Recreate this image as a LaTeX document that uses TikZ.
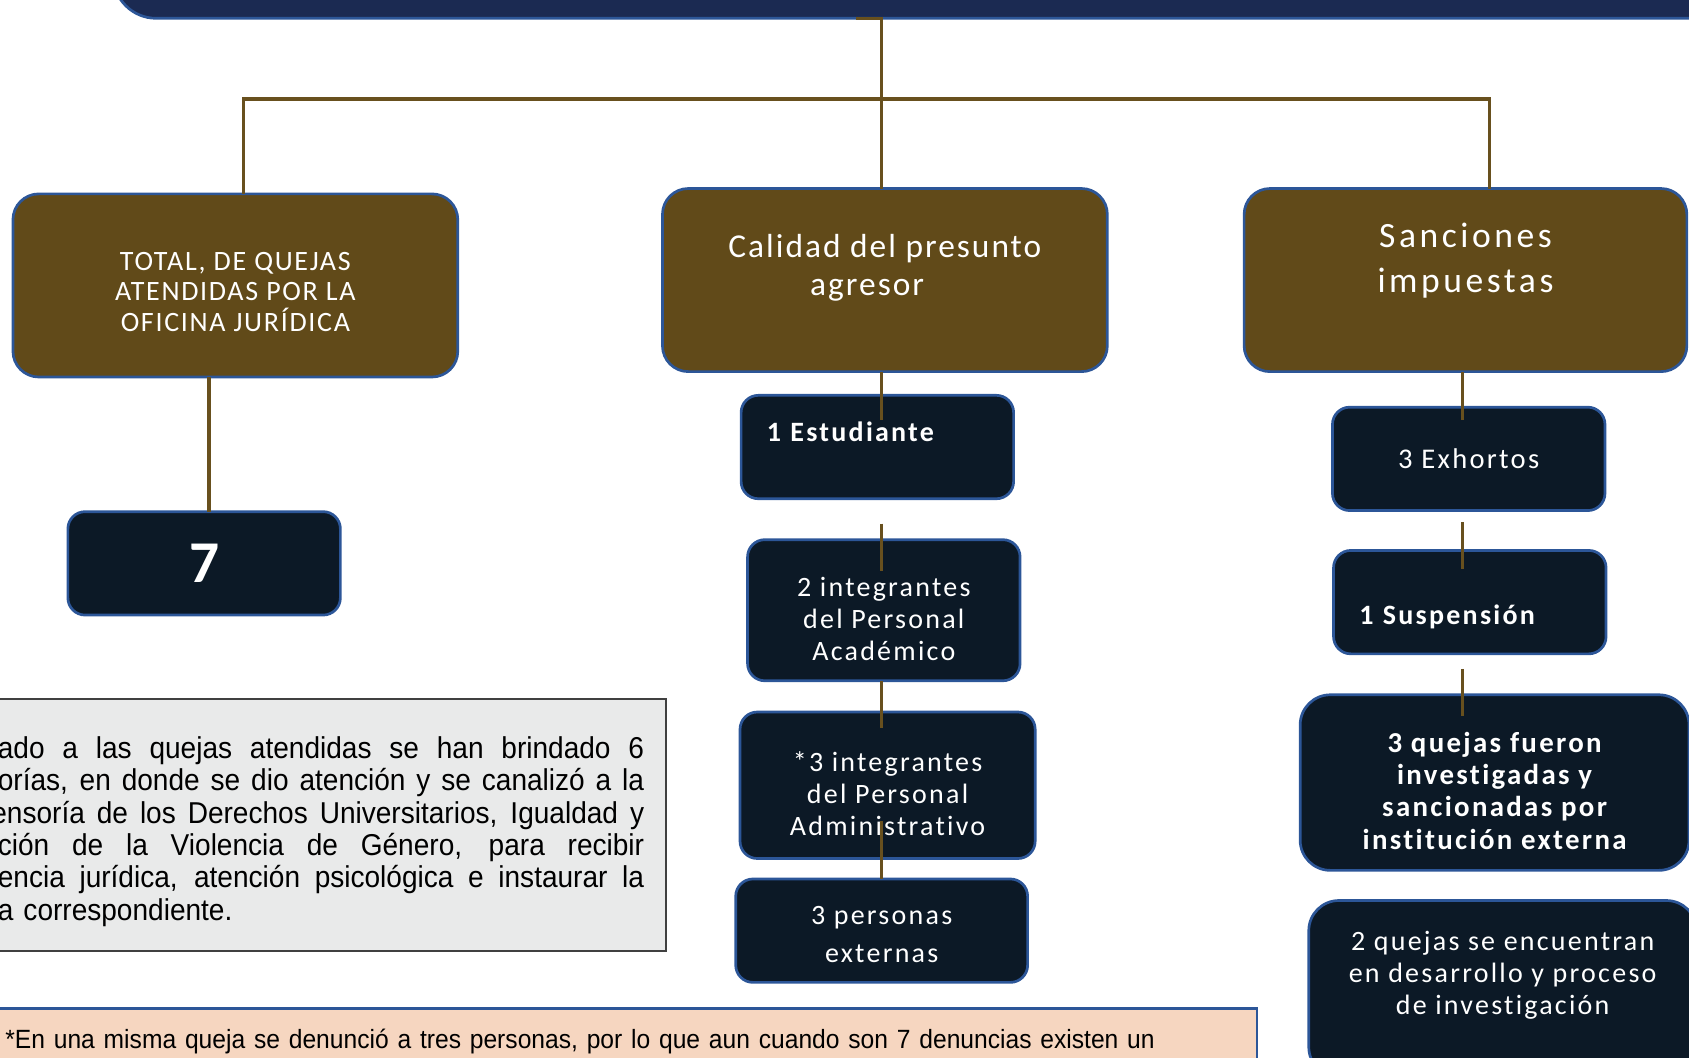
\documentclass[tikz,border=0pt]{standalone}
\usepackage{fontspec}
\setmainfont{Carlito}
\newfontfamily\totalfam[LetterSpace=6]{Carlito}
\newfontfamily\calidadfam[LetterSpace=6]{Carlito}
\newfontfamily\sancfam[LetterSpace=10]{Carlito}
\newfontfamily\cellfam[LetterSpace=8,Ligatures=NoCommon]{Carlito}
\newfontfamily\notefam[FakeStretch=0.93]{Liberation Sans}
\newfontfamily\footfam[FakeStretch=0.933]{Liberation Sans}
\usetikzlibrary{positioning,calc}

\definecolor{barnavy}{RGB}{27,42,82}
\definecolor{boxedge}{RGB}{44,86,152}
\definecolor{boxbrown}{RGB}{97,74,25}
\definecolor{boxnavy}{RGB}{12,25,38}
\definecolor{linkbrown}{RGB}{104,80,30}
\definecolor{notegrey}{RGB}{233,234,234}
\definecolor{noteedge}{RGB}{64,64,64}
\definecolor{footpeach}{RGB}{246,214,192}

% justified line of the grey note
\newcommand{\noteline}[2][600pt]{\makebox[#1][s]{\spaceskip=0pt\relax#2}}
\newcommand{\topgap}[1]{\rule{0pt}{#1}}

\tikzset{
	titlebar/.style = {rectangle, rounded corners=40pt, draw=boxedge, line width=2.5pt, fill=barnavy, minimum width=1520pt, minimum height=100pt, outer sep=0pt},
	brownbox/.style = {rectangle, rounded corners=24pt, draw=boxedge, line width=2.5pt, fill=boxbrown, text=white, minimum width=413pt, minimum height=170pt, inner sep=2pt, outer sep=0pt, align=center},
	darkbox/.style = {rectangle, rounded corners=16pt, draw=boxedge, line width=2.5pt, fill=boxnavy, text=white, minimum width=253pt, minimum height=96pt, inner sep=2pt, outer sep=0pt, align=center, font=\cellfam\fontsize{26}{30}\selectfont},
	notebox/.style = {rectangle, draw=noteedge, line width=1.5pt, fill=notegrey, minimum height=234pt, inner xsep=20pt, outer sep=0pt, text width=600pt, align=left, font=\notefam\fontsize{28}{30}\selectfont},
	footbox/.style = {rectangle, draw=boxedge, line width=2.5pt, fill=footpeach, inner xsep=10pt, inner ysep=19pt, outer sep=0pt, text width=1152pt, align=left, text depth=30pt, font=\footfam\fontsize{24.5}{28}\selectfont},
	link/.style = {draw=linkbrown, line width=3pt}
}

\begin{document}
\begin{tikzpicture}[x=1pt, y=-1pt]
	\useasboundingbox (0,0) rectangle (1568,982);
	\clip (0,0) rectangle (1568,982);

	\node [titlebar, anchor=south west] (title) at (105,17) {};

	% main categories
	\node [brownbox, font=\totalfam\fontsize{26}{28}\selectfont] (total) at (218.5,265) {\topgap{29pt}TOTAL, DE QUEJAS\\ATENDIDAS POR LA\\OFICINA JURÍDICA};
	\node [brownbox, font=\calidadfam\fontsize{31}{36}\selectfont] (calidad) at (821.5,260) {Calidad del presunto\\agresor\hspace{33pt}\mbox{}\\[-8pt]\mbox{}};
	\node [brownbox, minimum width=411pt, font=\sancfam\fontsize{33}{42}\selectfont] (sanc) at (1360.5,260) {Sanciones\\impuestas\\\mbox{}};

	\node [darkbox, below = 125pt of total, xshift=-29pt, font=\cellfam\bfseries\fontsize{55}{60}\selectfont] (seven) {7};

	% presunto agresor
	\node [darkbox, below = 22pt of calidad, xshift=-7pt, text width=205pt, align=left, font=\cellfam\bfseries\fontsize{26}{30}\selectfont] (estud) {1 Estudiante\strut\\[-8pt]\strut};
	\node [darkbox, below = 38pt of estud, xshift=6pt, minimum height=131pt] (acad) {\topgap{34pt}2 integrantes\\del Personal\\Académico};
	\node [darkbox, below = 29pt of acad, xshift=3.5pt, minimum width=274pt, minimum height=136pt] (admin) {\topgap{34pt}*3 integrantes\\del Personal\\Administrativo};
	\node [darkbox, below = 19pt of admin, xshift=-5.5pt, minimum width=271pt, font=\cellfam\fontsize{26}{35}\selectfont] (ext) {\topgap{24pt}3 personas\\externas};

	% sanciones
	\node [darkbox, below = 33pt of sanc, xshift=3pt, font=\cellfam\fontsize{26.5}{30}\selectfont] (exh) {3 Exhortos};
	\node [darkbox, below = 37pt of exh, xshift=1pt, text width=205pt, align=left, font=\cellfam\bfseries\fontsize{26}{30}\selectfont] (susp) {\strut\\1 Suspensión\strut};
	\node [darkbox, below = 38pt of susp, xshift=23pt, minimum width=361pt, minimum height=163pt, rounded corners=28pt, font=\cellfam\bfseries\fontsize{26.8}{30}\selectfont] (inst) {\topgap{34pt}3 quejas fueron\\investigadas y\\sancionadas por\\institución externa};
	\node [darkbox, below = 28pt of inst, xshift=7.5pt, minimum width=360pt, minimum height=164pt, rounded corners=28pt] (inv) {2 quejas se encuentran\\en desarrollo y proceso\\de investigación\\\mbox{}};

	% notes
	\node [notebox, anchor=east] (note) at (618,766) {\topgap{32pt}\noteline{ado a las quejas atendidas se han brindado 6}\\
		\noteline{orías, en donde se dio atención y se canalizó a la}\\
		\hspace*{-6pt}\noteline[606pt]{ensoría de los Derechos Universitarios, Igualdad y}\\
		\noteline{ción de la Violencia de Género, para recibir}\\
		\noteline{encia jurídica, atención psicológica e instaurar la}\\
		a correspondiente.};
	\node [footbox, anchor=north west] (foot) at (-5,936) {*En una misma queja se denunció a tres personas, por lo que aun cuando son 7 denuncias existen un};

	% connectors
	\coordinate (elbow) at (795,17);
	\coordinate (hub) at (818,92);
	\coordinate (lx) at (226,92);
	\coordinate (rx) at (1383,92);
	\coordinate (sx) at (194,0);
	\coordinate (cx) at (818.5,0);
	\coordinate (rc) at (1358,0);

	\draw [link] (elbow) -| (calidad.north -| hub);
	\draw [link] (total.north -| lx) -- (lx) -- (rx) -- (sanc.north -| rx);
	\draw [link] (total.south -| sx) -- (seven.north -| sx);

	\draw [link] (calidad.south -| cx) -- ($(estud.north -| cx)+(0,23)$);
	\draw [link] ($(estud.south -| cx)+(0,23)$) -- ($(acad.north -| cx)+(0,29)$);
	\draw [link] (acad.south -| cx) -- ($(admin.north -| cx)+(0,15)$);
	\draw [link] ($(admin.south -| cx)+(0,-35)$) -- (ext.north -| cx);

	\draw [link] (sanc.south -| rc) -- ($(exh.north -| rc)+(0,12)$);
	\draw [link] ($(exh.south -| rc)+(0,11)$) -- ($(susp.north -| rc)+(0,17)$);
	\draw [link] ($(susp.south -| rc)+(0,14)$) -- ($(inst.north -| rc)+(0,20)$);
\end{tikzpicture}
\end{document}
